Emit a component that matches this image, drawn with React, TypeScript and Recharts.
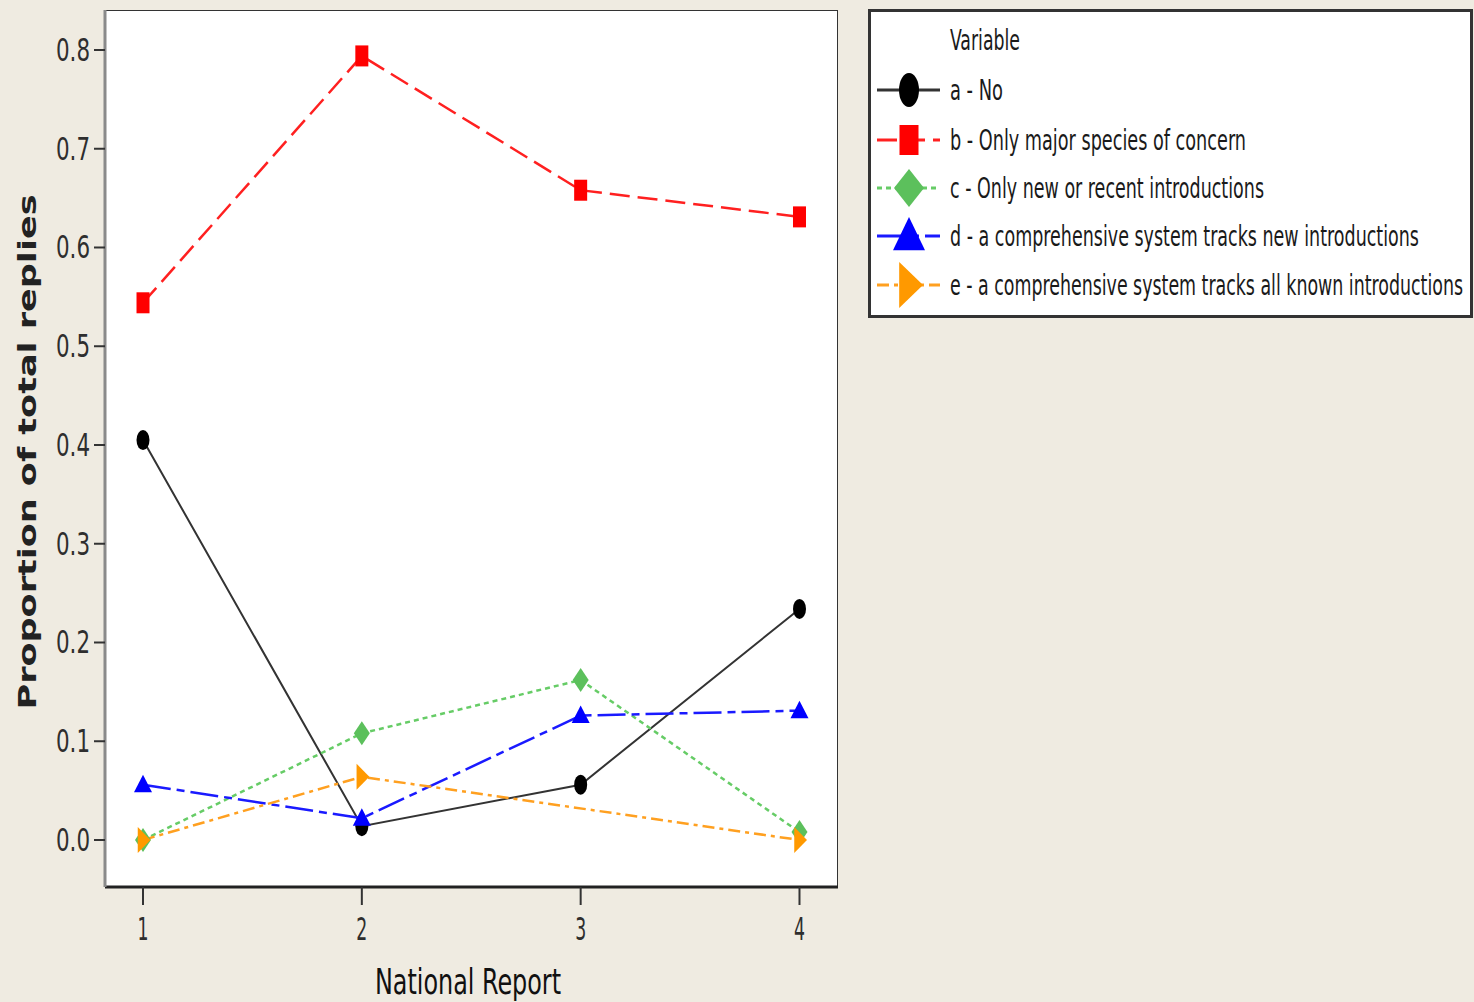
import React from 'react'
import { LineChart, Line, XAxis, YAxis, ReferenceArea, Label } from 'recharts'

const reports = [1, 2, 3, 4]
const seriesA = [0.405, 0.014, 0.056, 0.234]
const seriesB = [0.544, 0.794, 0.658, 0.631]
const seriesC = [0.0, 0.108, 0.162, 0.008]
const seriesD = [0.056, 0.022, 0.126, 0.131]
const seriesE = [0.0, 0.064, null, 0.0]
const yTicks = [0, 0.1, 0.2, 0.3, 0.4, 0.5, 0.6, 0.7, 0.8]

const legendTitle = 'Variable'
const legendLabels = [
  'a - No',
  'b - Only major species of concern',
  'c - Only new or recent introductions',
  'd - a comprehensive system tracks new introductions',
  'e - a comprehensive system tracks all known introductions',
]
const legendWidths = [53, 296, 314, 469, 513]

const X_MIN = 0.8263
const X_MAX = 4.176
const Y_MIN = -0.0476
const Y_MAX = 0.8405

const BG = '#EFEBE1'
const NARROW = "'Liberation Sans Narrow', 'DejaVu Sans Condensed', 'Liberation Sans', sans-serif"

type Kind = 'circle' | 'square' | 'diamond' | 'up' | 'right'

const SERIES: { key: string; color: string; line: string; dash?: string; kind: Kind; size: [number, number]; big: [number, number] }[] = [
  { key: 'a', color: '#000000', line: '#333333', kind: 'circle', size: [13, 20], big: [20, 34] },
  { key: 'b', color: '#FF0000', line: '#FF2020', dash: '20 8', kind: 'square', size: [13, 21], big: [19, 30] },
  { key: 'c', color: '#5CC05C', line: '#66CC66', dash: '5 4', kind: 'diamond', size: [16, 24], big: [30, 38] },
  { key: 'd', color: '#0000FF', line: '#1A1AFF', dash: '28 6 8 6', kind: 'up', size: [18, 20], big: [32, 38] },
  { key: 'e', color: '#FF9900', line: '#FFA020', dash: '12 5 4 5', kind: 'right', size: [15, 26], big: [28, 46] },
]

const values = [seriesA, seriesB, seriesC, seriesD, seriesE]

const data = reports.map((r, i) => {
  const row: Record<string, number | null> = { report: r }
  SERIES.forEach((s, k) => {
    row[s.key] = values[k][i]
  })
  return row
})

function marker(kind: Kind, cx: number, cy: number, w: number, h: number, color: string, key?: string) {
  const hw = w / 2
  const hh = h / 2
  if (kind === 'circle') return <ellipse key={key} cx={cx} cy={cy} rx={hw} ry={hh} fill={color} />
  if (kind === 'square') return <rect key={key} x={cx - hw} y={cy - hh} width={w} height={h} fill={color} />
  let pts = ''
  if (kind === 'diamond') pts = `${cx},${cy - hh} ${cx + hw},${cy} ${cx},${cy + hh} ${cx - hw},${cy}`
  if (kind === 'up') pts = `${cx},${cy - hh} ${cx + hw},${cy + hh * 0.75} ${cx - hw},${cy + hh * 0.75}`
  if (kind === 'right') pts = `${cx - hw * 0.7},${cy - hh} ${cx + hw},${cy} ${cx - hw * 0.7},${cy + hh}`
  return <polygon key={key} points={pts} fill={color} />
}

function makeDot(s: (typeof SERIES)[number]) {
  return (p: any) => {
    const k = `${s.key}-${p.index}`
    if (p.cx == null || p.cy == null || p.value == null) return <g key={k} />
    return marker(s.kind, p.cx, p.cy, s.size[0], s.size[1], s.color, k)
  }
}

const YTick = (p: any) => (
  <text x={p.x - 2} y={p.y} textAnchor="end" dominantBaseline="central" fontFamily={NARROW} fontSize={32}
    fill="#2e2e2e" textLength={34} lengthAdjust="spacingAndGlyphs">
    {Number(p.payload.value).toFixed(1)}
  </text>
)

const XTick = (p: any) => (
  <text x={p.x} y={p.y + 22} textAnchor="middle" dominantBaseline="central" fontFamily={NARROW} fontSize={32}
    fill="#2e2e2e" textLength={11} lengthAdjust="spacingAndGlyphs">
    {p.payload.value}
  </text>
)

function LegendBox() {
  const rows = [90, 140, 188, 236, 285]
  return (
    <svg width={606} height={310} style={{ position: 'absolute', left: 868, top: 9 }}>
      <rect x={1.5} y={1.5} width={602} height={306} fill="#fff" stroke="#333" strokeWidth={3} />
      <text x={82} y={31} dominantBaseline="central" fontFamily={NARROW} fontSize={28} fill="#1a1a1a"
        textLength={70} lengthAdjust="spacingAndGlyphs">{legendTitle}</text>
      {SERIES.map((s, i) => {
        const y = rows[i] - 9
        return (
          <g key={s.key}>
            <line x1={9} x2={72} y1={y} y2={y} stroke={s.line} strokeWidth={3} strokeDasharray={s.dash} />
            {marker(s.kind, 41, y, s.big[0], s.big[1], s.color)}
            <text x={82} y={y} dominantBaseline="central" fontFamily={NARROW} fontSize={28} fill="#1a1a1a"
              textLength={legendWidths[i]} lengthAdjust="spacingAndGlyphs">{legendLabels[i]}</text>
          </g>
        )
      })}
    </svg>
  )
}

export default function App() {
  return (
    <div style={{ position: 'absolute', left: 0, top: 0, width: 1474, height: 1002, background: BG, overflow: 'hidden' }}>
      <LineChart width={1474} height={1002} data={data} margin={{ top: 10, right: 636, bottom: 0, left: 0 }}>
        <XAxis dataKey="report" type="number" domain={[X_MIN, X_MAX]} ticks={reports} allowDataOverflow
          height={115} tickSize={18} tick={XTick} axisLine={{ stroke: '#222', strokeWidth: 3 }}
          tickLine={{ stroke: '#333', strokeWidth: 2 }}>
          <Label content={() => (
            <text x={468} y={981} textAnchor="middle" dominantBaseline="central" fontFamily={NARROW}
              fontSize={36} fill="#111" textLength={186} lengthAdjust="spacingAndGlyphs">National Report</text>
          )} />
        </XAxis>
        <YAxis type="number" domain={[Y_MIN, Y_MAX]} ticks={yTicks} allowDataOverflow width={105}
          tickSize={11} tick={YTick} axisLine={{ stroke: '#8a8a8a', strokeWidth: 3 }}
          tickLine={{ stroke: '#333', strokeWidth: 2 }}>
          <Label content={() => (
            <text x={28} y={452} transform="rotate(-90 28 452)" textAnchor="middle" dominantBaseline="central"
              fontFamily="'DejaVu Sans', Verdana, sans-serif" fontWeight="bold" fontSize={24} fill="#222"
              textLength={515} lengthAdjust="spacingAndGlyphs">Proportion of total replies</text>
          )} />
        </YAxis>
        <ReferenceArea x1={X_MIN} x2={X_MAX} y1={Y_MIN} y2={Y_MAX} fill="#ffffff" fillOpacity={1}
          stroke="#333" strokeWidth={2} ifOverflow="hidden" />
        {SERIES.map((s) => (
          <Line key={s.key} dataKey={s.key} type="linear" stroke={s.line} strokeWidth={s.key === 'a' ? 2 : 2.5}
            strokeDasharray={s.dash} dot={makeDot(s)} activeDot={false} connectNulls isAnimationActive={false} />
        ))}
      </LineChart>
      <LegendBox />
    </div>
  )
}
